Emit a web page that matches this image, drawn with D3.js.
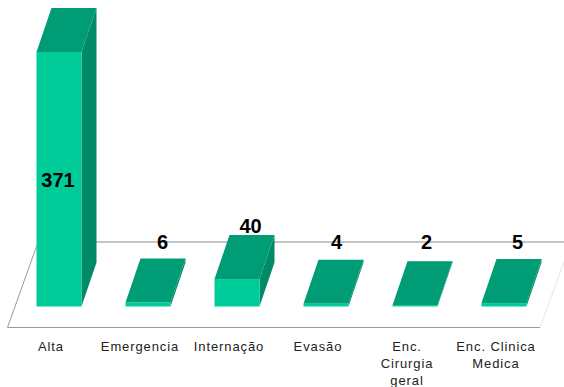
<!DOCTYPE html>
<html>
<head>
<meta charset="utf-8">
<script src="https://cdnjs.cloudflare.com/ajax/libs/d3/7.8.5/d3.min.js"></script>
<style>
html,body{margin:0;padding:0;background:#fff}
svg{display:block}
text{font-family:"Liberation Sans",Arial,sans-serif}
</style>
</head>
<body>
<svg id="c" width="564" height="387"></svg>
<script>
const categories = ["Alta","Emergencia","Internação","Evasão","Enc. Cirurgia geral","Enc. Clinica Medica"];
const categoryLines = [["Alta"],["Emergencia"],["Internação"],["Evasão"],["Enc.","Cirurgia","geral"],["Enc. Clinica","Medica"]];
const values = [371,6,40,4,2,5];

const W = 564, H = 387;
const baseY = 306.5, dx = 15, dy = 44;
const svg = d3.select("#c");

const x = d3.scaleBand().domain(categories).range([14.5, 548.5]).paddingInner(0.4944).paddingOuter(0.2472);
const y = d3.scaleLinear().domain([0,371]).range([baseY,52]);

// floor
const floorFrontY = 327.5, floorBackY = 242;
svg.append("line").attr("x1",7.5).attr("y1",floorFrontY).attr("x2",540).attr("y2",floorFrontY).attr("stroke","#9a9a9a").attr("stroke-width",1.2);
svg.append("line").attr("x1",7.5).attr("y1",floorFrontY).attr("x2",37).attr("y2",245).attr("stroke","#9a9a9a").attr("stroke-width",1);
svg.append("line").attr("x1",85).attr("y1",floorBackY).attr("x2",W).attr("y2",floorBackY).attr("stroke","#8c8c8c").attr("stroke-width",1.2);
svg.append("line").attr("x1",540).attr("y1",floorFrontY).attr("x2",564).attr("y2",262).attr("stroke","#e6e6e6").attr("stroke-width",1);

const data = categories.map((c,i)=>({c,v:values[i],lines:categoryLines[i]}));
const bars = svg.selectAll("g.bar").data(data).join("g").attr("class","bar");
const pts = a => a.map(p=>p.join(",")).join(" ");
bars.each(function(d){
  const g = d3.select(this), l = x(d.c), r = l + x.bandwidth(), t = y(d.v), b = baseY;
  g.append("polygon").attr("points",pts([[r,t],[r+dx,t-dy],[r+dx,b-dy],[r,b]])).attr("fill","#008a66");
  g.append("polygon").attr("points",pts([[l,t],[l+dx,t-dy],[r+dx,t-dy],[r,t]])).attr("fill","#009c75");
  g.append("rect").attr("x",l).attr("y",t).attr("width",r-l).attr("height",b-t).attr("fill","#00cc99");
});

// value labels
const valueLabelNudgeX = [-1,14.5,13.5,10.5,11.5,13.5];
const valueLabelY = [180,241.7,225.7,241.7,241.7,241.7];
svg.selectAll("text.val").data(data).join("text").attr("class","val")
  .attr("x",(d,i)=> x(d.c)+x.bandwidth()/2 + valueLabelNudgeX[i])
  .attr("y",(d,i)=> valueLabelY[i])
  .attr("dy","0.36em")
  .attr("text-anchor","middle")
  .attr("font-size",20).attr("font-weight",700)
  .attr("fill","#000")
  .text(d=>d.v);

// category labels
svg.selectAll("text.cat").data(data).join("text").attr("class","cat")
  .attr("text-anchor","middle").attr("font-size",13).attr("fill","#222").attr("letter-spacing","0.9px")
  .each(function(d){
    d3.select(this).selectAll("tspan").data(d.lines).join("tspan")
      .attr("x", x(d.c)+x.bandwidth()/2 - 8)
      .attr("y",(s,i)=>350.5+i*17)
      .text(s=>s);
  });
</script>
</body>
</html>
